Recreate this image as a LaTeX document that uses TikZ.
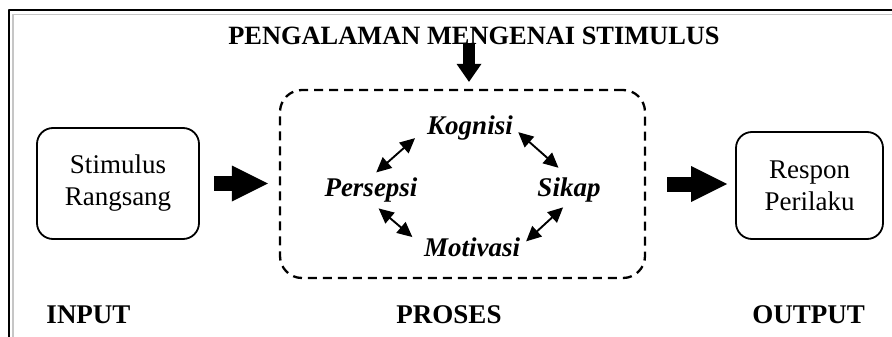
\documentclass[tikz,border=0pt]{standalone}
\usepackage{fontspec}
\setmainfont{Liberation Serif}
\usetikzlibrary{arrows.meta}
\newcommand\bigfont{\fontsize{27}{32}\selectfont}

\begin{document}
\begin{tikzpicture}[x=1pt,y=-1pt,line join=round,font=\bigfont,
    box/.style={draw,line width=1.8pt,rounded corners=16pt,align=center,inner sep=0pt},
    caption/.style={font=\bigfont\bfseries,anchor=base},
    factor/.style={font=\bigfont\bfseries\itshape,anchor=base,inner sep=0pt},
    link/.style={{Triangle[length=15pt,width=14pt]}-{Triangle[length=15pt,width=14pt]},line width=1.9pt},
    bigarrow/.style={line width=15pt,-{Triangle[length=36pt,width=36pt,line width=0pt]}},
    downarrow/.style={line width=12pt,-{Triangle[length=18pt,width=25pt,line width=0pt]}}]
  \useasboundingbox (0,0) rectangle (892,337);
  % frame
  \draw[line width=2pt] (9,337) -- (9,10) -- (892,10);
  \draw[gray!45,line width=1.5pt] (13,337) -- (13,14.5) -- (892,14.5);
  % boxes
  \node[caption,font=\fontsize{26.4}{32}\selectfont\bfseries] (title) at (474,45) {PENGALAMAN MENGENAI STIMULUS};
  \node[box,minimum width=162pt,minimum height=111pt] (stim) at (118,183.5) {Stimulus\\Rangsang};
  \node[box,minimum width=147pt,minimum height=107pt] (resp) at (809.5,185.5) {Respon\\Perilaku};
  \node[draw,line width=2.3pt,dash pattern=on 9pt off 6pt,rounded corners=22pt,
    minimum width=365pt,minimum height=188pt] (proses) at (462.5,184) {};
  \node[factor] (kognisi) at (470,134) {Kognisi};
  \node[factor] (persepsi) at (371,196) {Persepsi};
  \node[factor] (sikap) at (569,196) {Sikap};
  \node[factor] (motivasi) at (472,256) {Motivasi};
  \node[caption] (input) at (88.5,323) {INPUT};
  \node[caption] (prs) at (449,323) {PROSES};
  \node[caption] (output) at (808.5,323) {OUTPUT};
  % arrows
  \coordinate (expin) at (469,43);
  \draw[downarrow,shorten >=7pt] (expin) -- (expin |- proses.north);
  \draw[bigarrow,shorten <=14pt,shorten >=11pt] (stim.east) -- (stim.east -| proses.west);
  \draw[bigarrow,shorten <=21pt,shorten >=8pt] (proses.east) -- (proses.east -| resp.west);
  \draw[link,shorten <=7pt,shorten >=16pt] (persepsi.north) -- (kognisi.west);
  \draw[link,shorten <=7pt,shorten >=14pt] (kognisi.east) -- (sikap.north);
  \draw[link,shorten <=10pt,shorten >=15pt] (persepsi.south) -- (motivasi.west);
  \draw[link,shorten <=8pt,shorten >=8pt] (sikap.south) -- (motivasi.east);
\end{tikzpicture}
\end{document}
